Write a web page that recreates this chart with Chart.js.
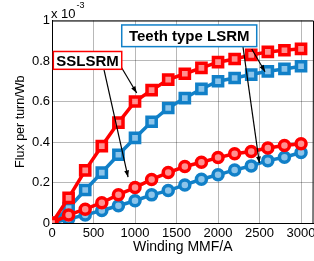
<!DOCTYPE html>
<html>
<head>
<meta charset="utf-8">
<script src="https://cdn.jsdelivr.net/npm/chart.js@4/dist/chart.umd.min.js"></script>
<style>
  html, body { margin: 0; padding: 0; background: #fff; overflow: hidden; }
  #wrap { width: 360px; height: 261px; }
</style>
</head>
<body>
<div id="wrap"><canvas id="fluxChart" width="360" height="261"></canvas></div>
<script>
// winding MMF (A) and flux per turn (x 1e-3 Wb)
const mmf = [0, 200, 400, 600, 800, 1000, 1200, 1400, 1600, 1800, 2000, 2200, 2400, 2600, 2800, 3000];
const sslSquares = [0, 0.124, 0.26, 0.38, 0.496, 0.60, 0.656, 0.708, 0.737, 0.766, 0.794, 0.81, 0.83, 0.845, 0.853, 0.86];
const teethSquares = [0, 0.074, 0.163, 0.249, 0.337, 0.42, 0.50, 0.568, 0.617, 0.662, 0.70, 0.716, 0.733, 0.749, 0.761, 0.774];
const sslCircles = [0, 0.04, 0.068, 0.1, 0.14, 0.175, 0.215, 0.249, 0.279, 0.30, 0.323, 0.342, 0.353, 0.37, 0.383, 0.391];
const teethCircles = [0, 0.02, 0.04, 0.062, 0.085, 0.11, 0.139, 0.16, 0.188, 0.216, 0.238, 0.262, 0.282, 0.308, 0.325, 0.348];
const xTicks = [0, 500, 1000, 1500, 2000, 2500, 3000];

const RED = '#ff0000';
const BLUE = '#1180c8';
const FONT = 'Liberation Sans, Arial, sans-serif';

function pts(ys) { return mmf.map((x, i) => ({ x: x, y: ys[i] })); }

function series(label, ys, color, fill, style, r) {
    return {
        label: label,
        data: pts(ys),
        borderColor: color,
        backgroundColor: fill,
        borderWidth: 3.5,
        pointStyle: style,
        pointRadius: r,
        pointBorderWidth: 3.5,
        pointBorderColor: color,
        pointBackgroundColor: fill,
        tension: 0
    };
}

// label boxes and arrows, given in axis units
const notes = [
    { text: 'SSLSRM', color: RED, x0: 16, x1: 840, y0: 0.847, y1: 0.759 },
    { text: 'Teeth type LSRM', color: BLUE, x0: 840, x1: 2466, y0: 0.978, y1: 0.871 }
];
const arrows = [
    [614, 0.78, 916, 0.227],
    [819, 0.78, 1020, 0.642],
    [2301, 0.869, 2498, 0.296],
    [2406, 0.859, 2566, 0.747]
];

const decor = {
    id: 'decor',
    afterDraw(chart) {
        const { ctx, chartArea: a, scales: { x, y } } = chart;
        ctx.save();
        // box around plot
        ctx.strokeStyle = '#000';
        ctx.lineWidth = 1;
        ctx.beginPath();
        ctx.moveTo(a.left, a.top + 0.5);
        ctx.lineTo(a.right, a.top + 0.5);
        ctx.lineTo(a.right - 0.5, a.bottom);
        ctx.stroke();

        // exponent
        ctx.fillStyle = '#000';
        ctx.textBaseline = 'middle';
        ctx.textAlign = 'left';
        ctx.font = '13px ' + FONT;
        ctx.fillText('x 10', a.left - 1, 14);
        const w = ctx.measureText('x 10').width;
        ctx.font = '9px ' + FONT;
        ctx.fillText('-3', a.left - 1 + w + 1, 6);

        // arrows
        arrows.forEach(([xa, ya, xb, yb]) => {
            const x1 = x.getPixelForValue(xa), y1 = y.getPixelForValue(ya);
            const x2 = x.getPixelForValue(xb), y2 = y.getPixelForValue(yb);
            ctx.strokeStyle = '#000';
            ctx.lineWidth = 1.2;
            ctx.beginPath();
            ctx.moveTo(x1, y1);
            ctx.lineTo(x2, y2);
            ctx.stroke();
            const ang = Math.atan2(y2 - y1, x2 - x1);
            ctx.beginPath();
            ctx.moveTo(x2, y2);
            ctx.lineTo(x2 - 7 * Math.cos(ang - 0.35), y2 - 7 * Math.sin(ang - 0.35));
            ctx.lineTo(x2 - 7 * Math.cos(ang + 0.35), y2 - 7 * Math.sin(ang + 0.35));
            ctx.closePath();
            ctx.fillStyle = '#000';
            ctx.fill();
        });

        // text boxes
        notes.forEach(n => {
            const l = x.getPixelForValue(n.x0), r = x.getPixelForValue(n.x1);
            const t = y.getPixelForValue(n.y0), b = y.getPixelForValue(n.y1);
            ctx.fillStyle = '#fff';
            ctx.fillRect(l, t, r - l, b - t);
            ctx.strokeStyle = n.color;
            ctx.lineWidth = 1.5;
            ctx.strokeRect(l, t, r - l, b - t);
            ctx.fillStyle = '#000';
            ctx.font = 'bold 15px ' + FONT;
            ctx.textAlign = 'center';
            ctx.textBaseline = 'middle';
            ctx.fillText(n.text, (l + r) / 2, (t + b) / 2 + 1);
        });
        ctx.restore();
    }
};

new Chart(document.getElementById('fluxChart').getContext('2d'), {
    type: 'line',
    data: {
        datasets: [
            series('SSLSRM aligned', sslSquares, RED, '#ff9090', 'rect', 6.5),
            series('SSLSRM unaligned', sslCircles, RED, '#ff9090', 'circle', 5),
            series('Teeth aligned', teethSquares, BLUE, '#8cc4ea', 'rect', 6.5),
            series('Teeth unaligned', teethCircles, BLUE, '#8cc4ea', 'circle', 5)
        ]
    },
    options: {
        responsive: false,
        animation: false,
        layout: { padding: { top: 20.5, right: 46.5, left: 0, bottom: 0 } },
        plugins: { legend: { display: false }, tooltip: { enabled: false } },
        scales: {
            x: {
                type: 'linear',
                min: 0,
                max: 3150,
                afterBuildTicks: s => { s.ticks = xTicks.map(v => ({ value: v })); },
                afterFit: s => { s.height = 38; },
                grid: { color: 'rgba(0,0,0,0.28)', drawTicks: false },
                border: { color: '#000', width: 1 },
                ticks: {
                    color: '#000', padding: 3, maxRotation: 0, autoSkip: false,
                    font: { family: FONT, size: 13 },
                    callback: v => String(v)
                },
                title: { display: true, text: 'Winding MMF/A', color: '#000', padding: { top: 0, bottom: 5.5 }, font: { family: FONT, size: 14 } }
            },
            y: {
                min: 0,
                max: 1,
                afterBuildTicks: s => { s.ticks = [0, 0.2, 0.4, 0.6, 0.8, 1].map(v => ({ value: v })); },
                afterFit: s => { s.width = 52; },
                grid: { color: 'rgba(0,0,0,0.28)', drawTicks: false },
                border: { color: '#000', width: 1 },
                ticks: {
                    color: '#000',
                    padding: 2,
                    font: { family: FONT, size: 13 },
                    callback: v => (v === 0 || v === 1) ? String(v) : v.toFixed(1)
                },
                title: { display: true, text: 'Flux per turn/Wb', color: '#000', padding: { top: 13.5, bottom: 0 }, font: { family: FONT, size: 12.5 } }
            }
        }
    },
    plugins: [decor]
});
</script>
</body>
</html>
